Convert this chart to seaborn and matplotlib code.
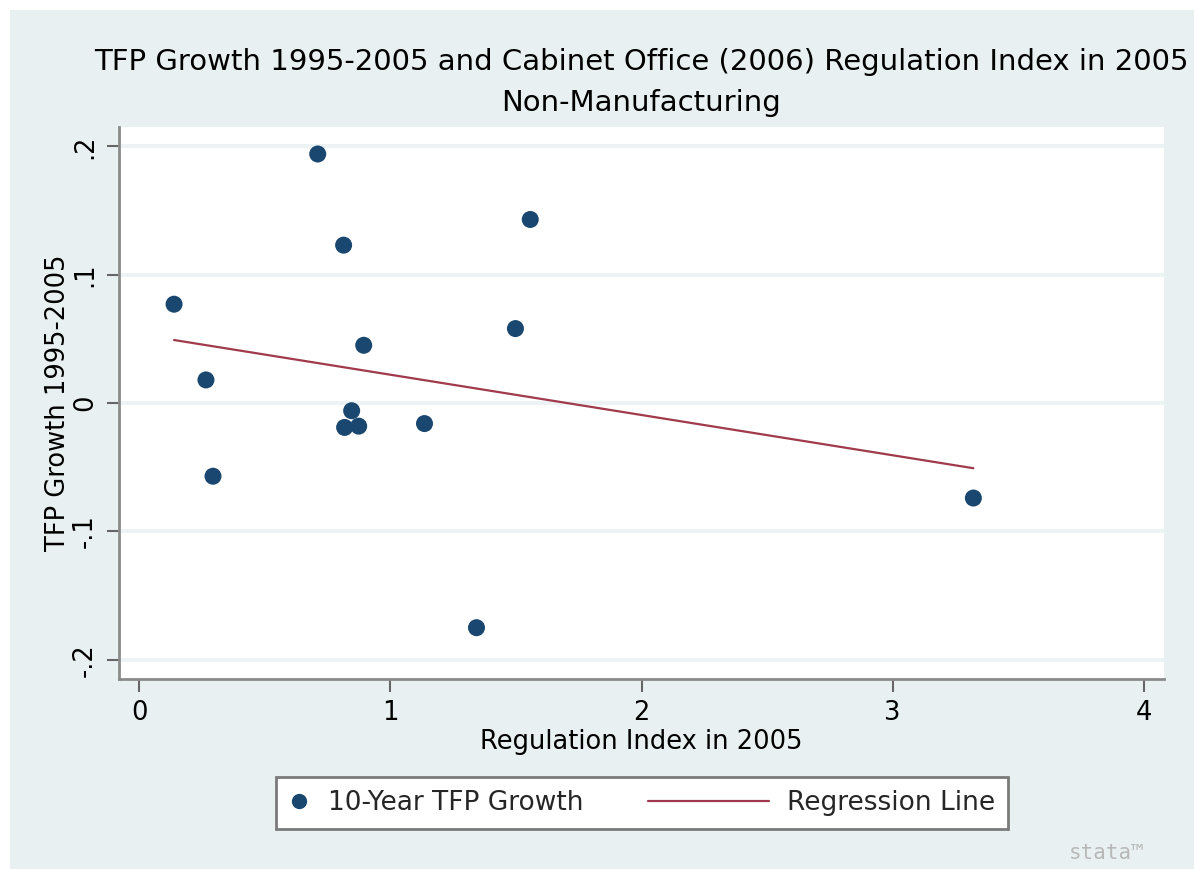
import numpy as np
import pandas as pd
import matplotlib
matplotlib.use("Agg")
import matplotlib.pyplot as plt
import seaborn as sns
from matplotlib.lines import Line2D
from matplotlib.legend_handler import HandlerBase
from matplotlib.patches import Rectangle

# values
reg_index = [0.711, 0.814, 1.557, 0.139, 1.498, 0.894, 0.266, 0.846, 0.818, 0.874, 1.136, 0.294, 3.321, 1.343]
tfp_growth = [0.194, 0.123, 0.143, 0.077, 0.058, 0.045, 0.018, -0.006, -0.019, -0.018, -0.016, -0.057, -0.074, -0.175]
x_ticks = [0, 1, 2, 3, 4]
y_ticks = [-0.2, -0.1, 0, 0.1, 0.2]
y_tick_labels = ["-.2", "-.1", "0", ".1", ".2"]

df = pd.DataFrame({"reg": reg_index, "tfp": tfp_growth})

navy = "#1a476f"
maroon = "#a03a4c"
bg = "#e8f0f1"
grid_c = "#edf3f4"
spine_c = "#8a8a8a"

sns.set_theme(style="white")
plt.rcParams["font.family"] = ["DejaVu Sans"]

fig = plt.figure(figsize=(11.94, 8.69), dpi=100)
fig.patch.set_facecolor("white")
# light bluish graph region, white strip only on the left and top
fig.patches.append(Rectangle((10 / 1194, -0.1), 1.2, 1.1 - 10 / 869, transform=fig.transFigure,
                             facecolor=bg, edgecolor="none", zorder=-10))

ax = fig.add_axes([0.0997, 0.2186, 0.8752, 0.6352])
ax.set_facecolor("white")

sns.scatterplot(data=df, x="reg", y="tfp", ax=ax, color=navy, s=150, edgecolor="none",
                label="10-Year TFP Growth", zorder=3)
sns.regplot(data=df, x="reg", y="tfp", ax=ax, scatter=False, ci=None, truncate=True,
            line_kws={"color": maroon, "lw": 1.6, "zorder": 2}, label="Regression Line")

ax.set_xlim(-0.08, 4.08)
ax.set_ylim(-0.215, 0.215)
ax.set_xticks(x_ticks)
ax.set_xticklabels([str(t) for t in x_ticks])
ax.set_yticks(y_ticks)
ax.set_yticklabels(y_tick_labels, rotation=90, va="center")

ax.grid(axis="y", color=grid_c, lw=3, zorder=0)
ax.grid(axis="x", visible=False)
ax.set_axisbelow(True)

for side in ["top", "right"]:
    ax.spines[side].set_visible(False)
for side in ["left", "bottom"]:
    ax.spines[side].set_color(spine_c)
    ax.spines[side].set_linewidth(2)

ax.tick_params(axis="both", which="major", direction="out", length=9, width=1.5,
               color="#666666", labelsize=18.5, labelcolor="black", pad=6)
ax.tick_params(left=True, bottom=True)

ax.set_xlabel("Regulation Index in 2005", fontsize=18.5, color="black", labelpad=2)
ax.set_ylabel("TFP Growth 1995-2005", fontsize=18.5, color="black", labelpad=1)

fig.text(641 / 1194, 1 - 62 / 869, "TFP Growth 1995-2005 and Cabinet Office (2006) Regulation Index in 2005",
         ha="center", va="center", fontsize=21, color="black")
fig.text(641 / 1194, 1 - 103 / 869, "Non-Manufacturing",
         ha="center", va="center", fontsize=21, color="black")


class WideLine(HandlerBase):
    def create_artists(self, legend, orig_handle, xdescent, ydescent, width, height, fontsize, trans):
        y = height / 2 - ydescent
        line = Line2D([-xdescent - 4.7 * width, width - xdescent], [y, y])
        line.set_color(orig_handle.get_color())
        line.set_linewidth(orig_handle.get_linewidth())
        line.set_transform(trans)
        return [line]


marker_h = Line2D([], [], ls="none", marker="o", markersize=10, color=navy)
line_h = Line2D([], [], color=maroon, lw=1.6)
if ax.get_legend():
    ax.get_legend().remove()
leg = fig.legend([marker_h, line_h], ["10-Year TFP Growth", "Regression Line"],
                 loc="center", bbox_to_anchor=(642 / 1194, 1 - 803 / 869), ncol=2,
                 fontsize=19, frameon=True, fancybox=False, handlelength=0.8,
                 handletextpad=0.7, columnspacing=6.2, borderpad=0.5,
                 handler_map={line_h: WideLine()})
leg.get_frame().set_edgecolor("#7a7a7a")
leg.get_frame().set_linewidth(2)
leg.get_frame().set_facecolor("white")
leg.get_frame().set_alpha(1)

fig.text(1107 / 1194, 1 - 853 / 869, "stata\u2122", ha="center", va="center",
         fontsize=15, color="#b8b8b8", family="DejaVu Sans Mono")

fig.savefig("out.png", dpi=100, facecolor=fig.get_facecolor())
